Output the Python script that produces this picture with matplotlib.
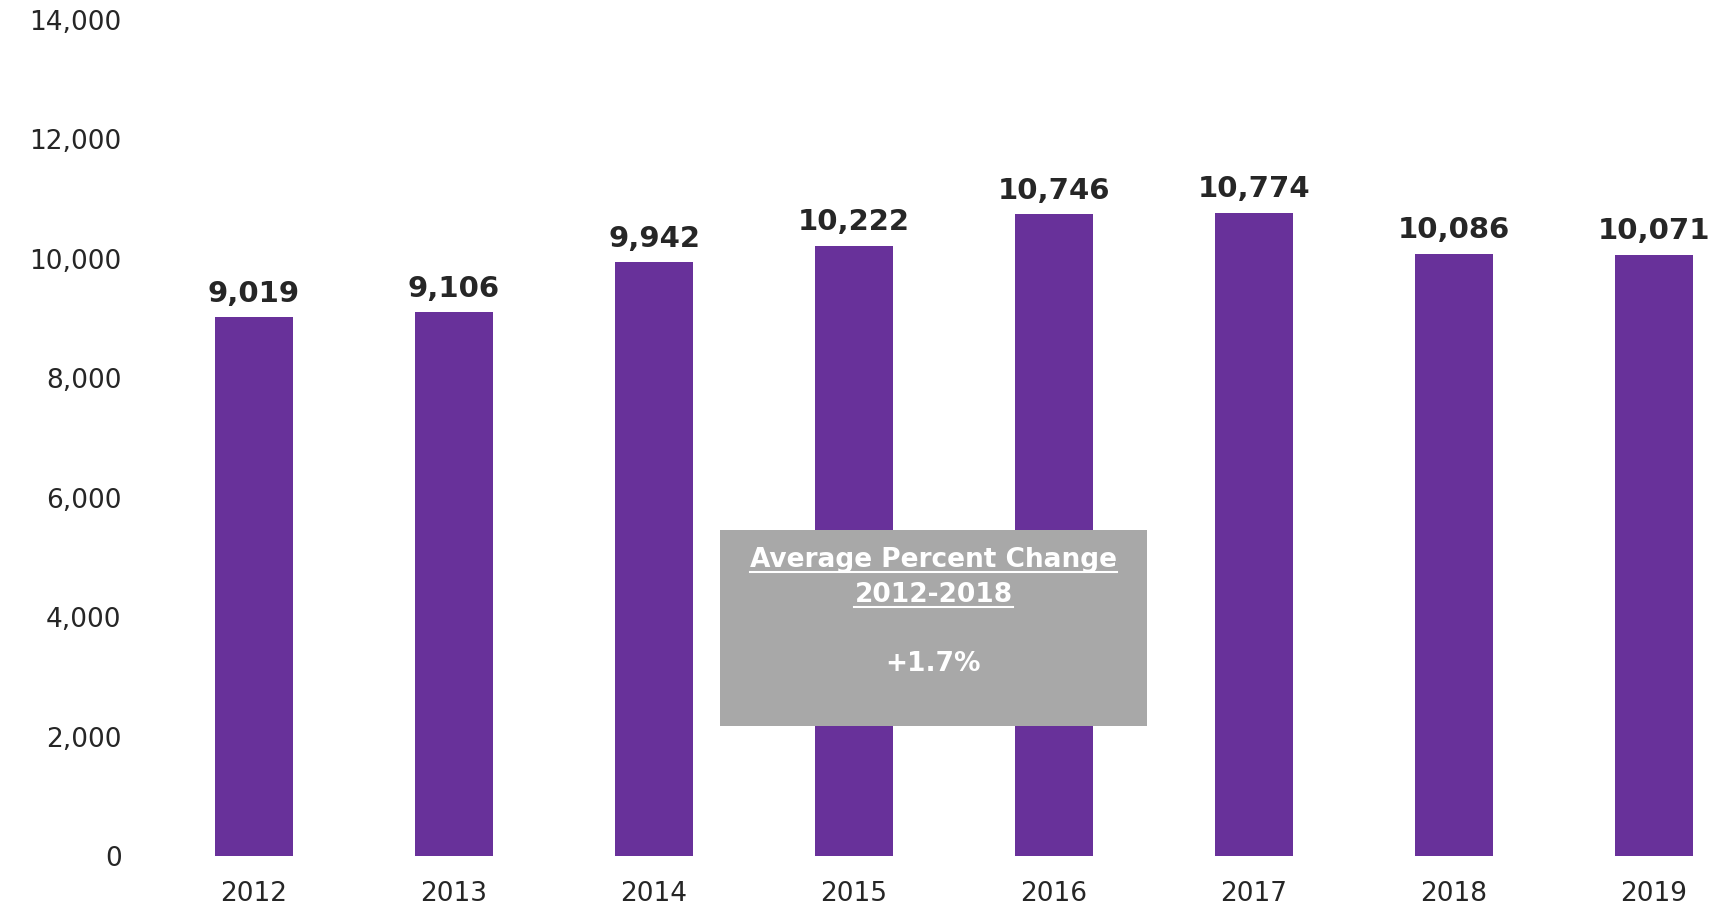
import numpy as np
import matplotlib
matplotlib.use("Agg")
import matplotlib.pyplot as plt

# data
years = ["2012", "2013", "2014", "2015", "2016", "2017", "2018", "2019"]
values = [9019, 9106, 9942, 10222, 10746, 10774, 10086, 10071]
y_ticks = [0, 2000, 4000, 6000, 8000, 10000, 12000, 14000]
box_title = ["Average Percent Change", "2012-2018"]
box_value = "+1.7%"

bar_color = "#68319a"
text_color = "#262626"

fig = plt.figure(figsize=(17.18, 9.08), dpi=100)
ax = fig.add_axes([130 / 1718, 52 / 908, 1 - 130 / 1718, 836 / 908])

x = np.arange(len(years))
bars = ax.bar(x, values, width=0.39, color=bar_color)

for xi, v in zip(x, values):
    ax.annotate(f"{v:,}", (xi, v), xytext=(0, 7), textcoords="offset points",
                ha="center", va="bottom", fontsize=21, fontweight="bold",
                color=text_color, family="DejaVu Sans")

ax.set_xlim(-0.62, 7.32)
ax.set_ylim(0, 14000)
ax.set_yticks(y_ticks)
ax.set_yticklabels([f"{t:,}" for t in y_ticks], fontsize=19, color=text_color, family="DejaVu Sans")
ax.set_xticks(x)
ax.set_xticklabels(years, fontsize=19, color=text_color, family="DejaVu Sans")
ax.tick_params(length=0)
ax.tick_params(axis="y", pad=6)
ax.tick_params(axis="x", pad=18)
for s in ax.spines.values():
    s.set_visible(False)

# grey annotation box
bx0, by0, bw, bh = 720 / 1718, 1 - 726 / 908, 427 / 1718, 196 / 908
fig.patches.append(plt.Rectangle((bx0, by0), bw, bh, transform=fig.transFigure,
                                 facecolor="#a8a8a8", edgecolor="none", zorder=5))
cx = bx0 + bw / 2
t1 = fig.text(cx, 1 - 560 / 908, box_title[0], ha="center", va="center", fontsize=19,
              fontweight="bold", color="white", family="DejaVu Sans", zorder=6)
t2 = fig.text(cx, 1 - 595 / 908, box_title[1], ha="center", va="center", fontsize=19,
              fontweight="bold", color="white", family="DejaVu Sans", zorder=6)
fig.text(cx, 1 - 664 / 908, box_value, ha="center", va="center", fontsize=19,
         fontweight="bold", color="white", family="DejaVu Sans", zorder=6)

# underline the heading lines
fig.canvas.draw()
r = fig.canvas.get_renderer()
inv = fig.transFigure.inverted()
for t in (t1, t2):
    bb = t.get_window_extent(r)
    (x0, y0), (x1, _) = inv.transform([[bb.x0, bb.y0], [bb.x1, bb.y1]])
    fig.add_artist(plt.Line2D([x0, x1], [y0 + 0.001, y0 + 0.001], transform=fig.transFigure,
                              color="white", lw=1.5, zorder=6))

fig.savefig("out.png", dpi=100)
